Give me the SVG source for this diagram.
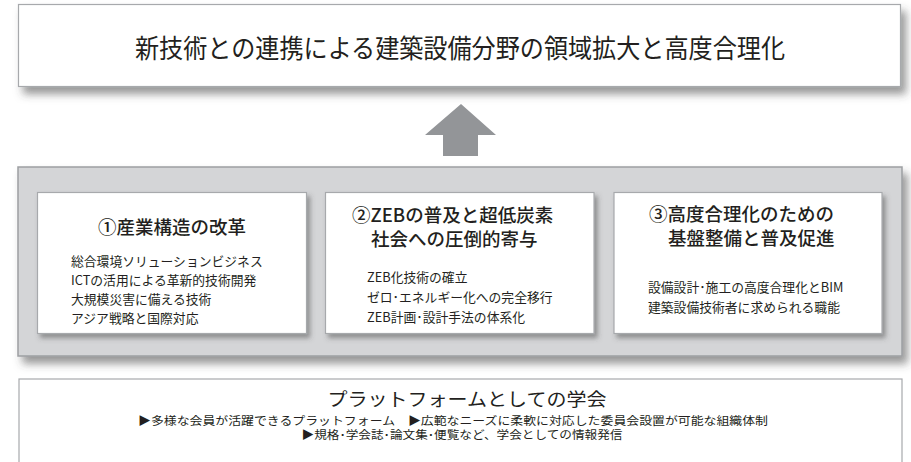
<svg xmlns="http://www.w3.org/2000/svg" width="911" height="462" viewBox="0 0 911 462">
<defs>
<style>
text{font-family:"Noto Sans CJK JP","Noto Sans",sans-serif;fill:#231f20}
.box{fill:#fff;stroke:#a7a9ac;stroke-width:1.2}
.panel{fill:#d4d5d7;stroke:#9d9fa2;stroke-width:1.5}
.title{font-size:26px}
.head{font-size:18.5px;font-weight:500}
.body{font-size:12.8px}
.sub{font-size:11.5px}
</style>
<filter id="sh" x="-10%" y="-20%" width="125%" height="150%">
<feDropShadow dx="5" dy="7" stdDeviation="4" flood-color="#444" flood-opacity="0.55"/>
</filter>
<filter id="sh2" x="-10%" y="-20%" width="125%" height="150%">
<feDropShadow dx="3" dy="4" stdDeviation="2.5" flood-color="#444" flood-opacity="0.5"/>
</filter>
</defs>

<g id="goal">
<rect class="box" x="18.5" y="4.5" width="882" height="82" filter="url(#sh)"/>
<text class="title" x="460" y="58" text-anchor="middle" textLength="650" lengthAdjust="spacingAndGlyphs">新技術との連携による建築設備分野の領域拡大と高度合理化</text>
</g>

<g id="connectors">
<polygon points="461,104 496,135 478,135 478,156 443,156 443,135 425,135" fill="#939598"/>
</g>

<g id="panel">
<rect class="panel" x="18" y="167" width="884" height="189" filter="url(#sh)"/>
</g>

<g id="pillar1">
<rect class="box" x="37.5" y="192.5" width="269" height="141" filter="url(#sh2)"/>
<text class="head" x="172" y="234" text-anchor="middle">①産業構造の改革</text>
<text class="body" x="71" y="266">総合環境ソリューションビジネス</text>
<text class="body" x="71" y="285">ICTの活用による革新的技術開発</text>
<text class="body" x="71" y="304">大規模災害に備える技術</text>
<text class="body" x="71" y="323">アジア戦略と国際対応</text>
</g>

<g id="pillar2">
<rect class="box" x="325.5" y="192.5" width="268.5" height="141" filter="url(#sh2)"/>
<text class="head" x="352" y="222">②ZEBの普及と超低炭素</text>
<text class="head" x="371" y="246">社会への圧倒的寄与</text>
<text class="body" x="367" y="282">ZEB化技術の確立</text>
<text class="body" x="367" y="302">ゼロ･エネルギー化への完全移行</text>
<text class="body" x="367" y="322">ZEB計画･設計手法の体系化</text>
</g>

<g id="pillar3">
<rect class="box" x="614" y="192.5" width="268" height="141" filter="url(#sh2)"/>
<text class="head" x="649" y="221">③高度合理化のための</text>
<text class="head" x="668" y="245">基盤整備と普及促進</text>
<text class="body" x="648" y="292">設備設計･施工の高度合理化とBIM</text>
<text class="body" x="648" y="312">建築設備技術者に求められる職能</text>
</g>

<g id="platform">
<rect class="box" x="19" y="379" width="883" height="100"/>
<text x="467" y="406" text-anchor="middle" font-size="18.5" textLength="279" lengthAdjust="spacingAndGlyphs">プラットフォームとしての学会</text>
<text class="sub" x="453" y="424.5" text-anchor="middle" textLength="630" lengthAdjust="spacingAndGlyphs">▶多様な会員が活躍できるプラットフォーム　▶広範なニーズに柔軟に対応した委員会設置が可能な組織体制</text>
<text class="sub" x="462" y="439" text-anchor="middle" textLength="321" lengthAdjust="spacingAndGlyphs">▶規格･学会誌･論文集･便覧など、学会としての情報発信</text>
</g>
</svg>
